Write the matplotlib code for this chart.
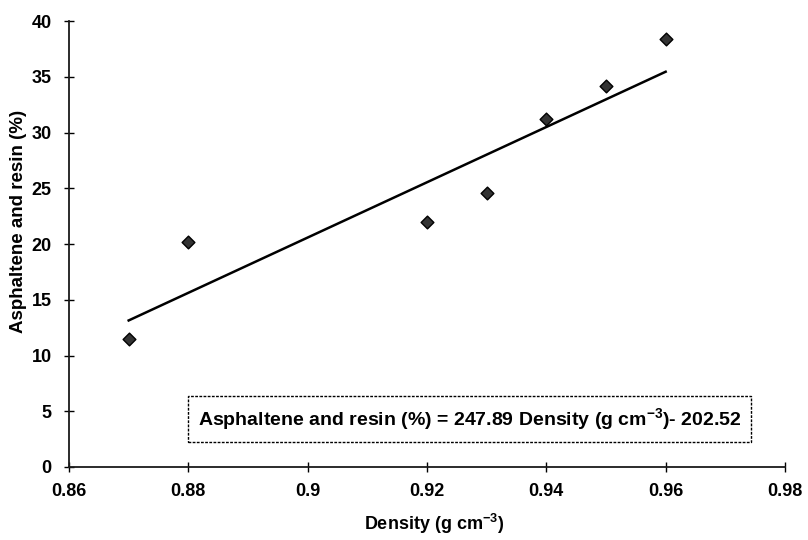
import matplotlib
matplotlib.use("Agg")
import matplotlib.pyplot as plt
import numpy as np

density = [0.87, 0.88, 0.92, 0.93, 0.94, 0.95, 0.96]
asph_resin = [11.5, 20.2, 22.0, 24.6, 31.2, 34.2, 38.4]
slope = 247.89
intercept = -202.52
xticks = [0.86, 0.88, 0.9, 0.92, 0.94, 0.96, 0.98]
xticklabels = ["0.86", "0.88", "0.9", "0.92", "0.94", "0.96", "0.98"]
yticks = [0, 5, 10, 15, 20, 25, 30, 35, 40]

plt.rcParams['font.family'] = ['Liberation Sans', 'DejaVu Sans']
plt.rcParams['font.weight'] = 'bold'
plt.rcParams['mathtext.fontset'] = 'custom'
plt.rcParams['mathtext.rm'] = 'Liberation Sans:bold'
plt.rcParams['mathtext.bf'] = 'Liberation Sans:bold'
plt.rcParams['mathtext.default'] = 'bf'

fig = plt.figure(figsize=(8.08, 5.4), dpi=100)
ax = fig.add_axes([0.0854, 0.1352, 0.8861, 0.8258])

ax.scatter(density, asph_resin, marker='D', s=42, facecolor='#333333',
           edgecolor='black', linewidth=1.0, zorder=3)

xl = np.array([min(density), max(density)])
ax.plot(xl, slope * xl + intercept, color='black', linewidth=1.8, zorder=2)

ax.set_xlim(0.86, 0.98)
ax.set_ylim(0, 40)
ax.set_xticks(xticks)
ax.set_xticklabels(xticklabels)
ax.set_yticks(yticks)
ax.tick_params(direction='inout', length=7, width=1, labelsize=13, pad=8)
ax.tick_params(axis='y', pad=9)
for lab in ax.get_xticklabels() + ax.get_yticklabels():
    lab.set_fontweight('bold')

ax.spines['top'].set_visible(False)
ax.spines['right'].set_visible(False)
for s in ['left', 'bottom']:
    ax.spines[s].set_linewidth(1.3)
    ax.spines[s].set_color('#1a1a1a')

ax.set_xlabel("Density (g cm$^{-3}$)", fontsize=13, fontweight='bold')
ax.set_ylabel("Asphaltene and resin (%)", fontsize=13.5, fontweight='bold')
ax.xaxis.set_label_coords(0.51, -0.1)
ax.yaxis.set_label_coords(-0.058, 0.55)

ax.text(0.9271, 4.3,
        "Asphaltene and resin (%) = 247.89 Density (g cm$^{-3}$)- 202.52",
        fontsize=14, fontweight='bold', ha='center', va='center',
        bbox=dict(boxstyle='square,pad=0.5', facecolor='white',
                  edgecolor='black', linestyle=(0, (2, 1)), linewidth=1.0))

fig.savefig("out.png", dpi=100)
